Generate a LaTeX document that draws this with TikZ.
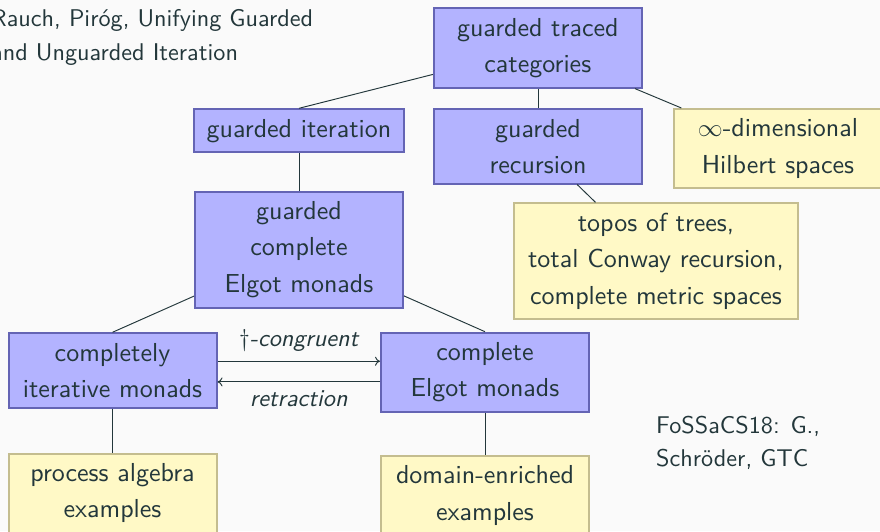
\documentclass[tikz,border=0pt]{standalone}
\usepackage{fontspec}
\setsansfont[ItalicFont=lmsans10-oblique.otf]{lmsans10-regular.otf}
\usetikzlibrary{arrows.meta}
\definecolor{bg}{HTML}{FAFAFA}
\definecolor{fg}{HTML}{23373B}
\definecolor{bfill}{HTML}{B3B3FF}
\definecolor{bdraw}{HTML}{6464B4}
\definecolor{yfill}{HTML}{FFF9C6}
\definecolor{ydraw}{HTML}{C4BD8F}
\begin{document}
\begin{tikzpicture}[x=1pt,y=-1pt,
  every node/.style={text=fg, font=\sffamily},
  box/.style={draw, line width=2pt, align=center, minimum width=208pt,
    inner xsep=12.5pt, inner ysep=9.7pt,
    font=\sffamily\fontsize{26}{36.5}\selectfont, anchor=north},
  bluebox/.style={box, fill=bfill, draw=bdraw},
  yellowbox/.style={box, fill=yfill, draw=ydraw},
  edge/.style={draw=fg, line width=0.95pt},
  smalltext/.style={font=\sffamily\fontsize{24.2}{33.5}\selectfont, anchor=base west, inner sep=0pt},
  lbl/.style={font=\sffamily\itshape\fontsize{24.2}{30}\selectfont, anchor=base, inner sep=0pt},
  arr/.style={edge, -{To[length=5pt,width=9pt]}}
]
\fill[bg] (0,0) rectangle (880,531);
\useasboundingbox (0,0) rectangle (880,531);
\clip (0,0) rectangle (880,531);

% reference text
\node[smalltext] (ref1) at (-9,26) {Rauch, Piróg, Unifying Guarded};
\node[smalltext] (ref2) at (-9,60) {and Unguarded Iteration};
\node[smalltext] (fo1) at (656,433.3) {FoSSaCS18: G.,};
\node[smalltext] (fo2) at (656,466.7) {Schröder, GTC};

% boxes
\node[bluebox] (gtc) at (537.8,7.3) {guarded traced\\categories};
\node[bluebox] (gi) at (299,108.3) {guarded iteration};
\node[bluebox] (gr) at (538,108.3) {guarded\\recursion};
\node[yellowbox] (hil) at (778,108) {$\infty$-dimensional\\Hilbert spaces};
\node[bluebox] (gcem) at (299,190.7) {guarded\\complete\\Elgot monads};
\node[yellowbox, minimum width=283.4pt] (tot) at (656,202.3) {topos of trees,\\total Conway recursion,\\complete metric spaces};
\node[bluebox] (cim) at (112.5,332.3) {completely\\iterative monads};
\node[bluebox] (cem) at (485,331.7) {complete\\Elgot monads};
\node[yellowbox] (pa) at (112.5,452.7) {process algebra\\examples};
\node[yellowbox] (de) at (485,455) {domain-enriched\\examples};

% connectors
\draw[edge] (gtc) -- (gi.north);
\draw[edge] (gtc.south -| gr.north) -- (gr.north);
\draw[edge] (gtc) -- (hil);
\draw[edge] (gi) -- (gcem.north);
\draw[edge] (gr) -- (tot);
\draw[edge] (gcem) -- (cim.north);
\draw[edge] (gcem) -- (cem.north);
\draw[edge] (cim) -- (pa.north);
\draw[edge] (cem) -- (de.north);

% arrows
\draw[arr] ([yshift=9.2pt]cim.east) -- ([yshift=9.2pt]cim.east -| cem.west)
  node[lbl, midway, yshift=15pt] (l1) {{\upshape †}-congruent};
\draw[arr] ([yshift=-11.5pt]cim.east -| cem.west) -- ([yshift=-11.5pt]cim.east)
  node[lbl, midway, yshift=-24.3pt] (l2) {retraction};
\end{tikzpicture}
\end{document}
